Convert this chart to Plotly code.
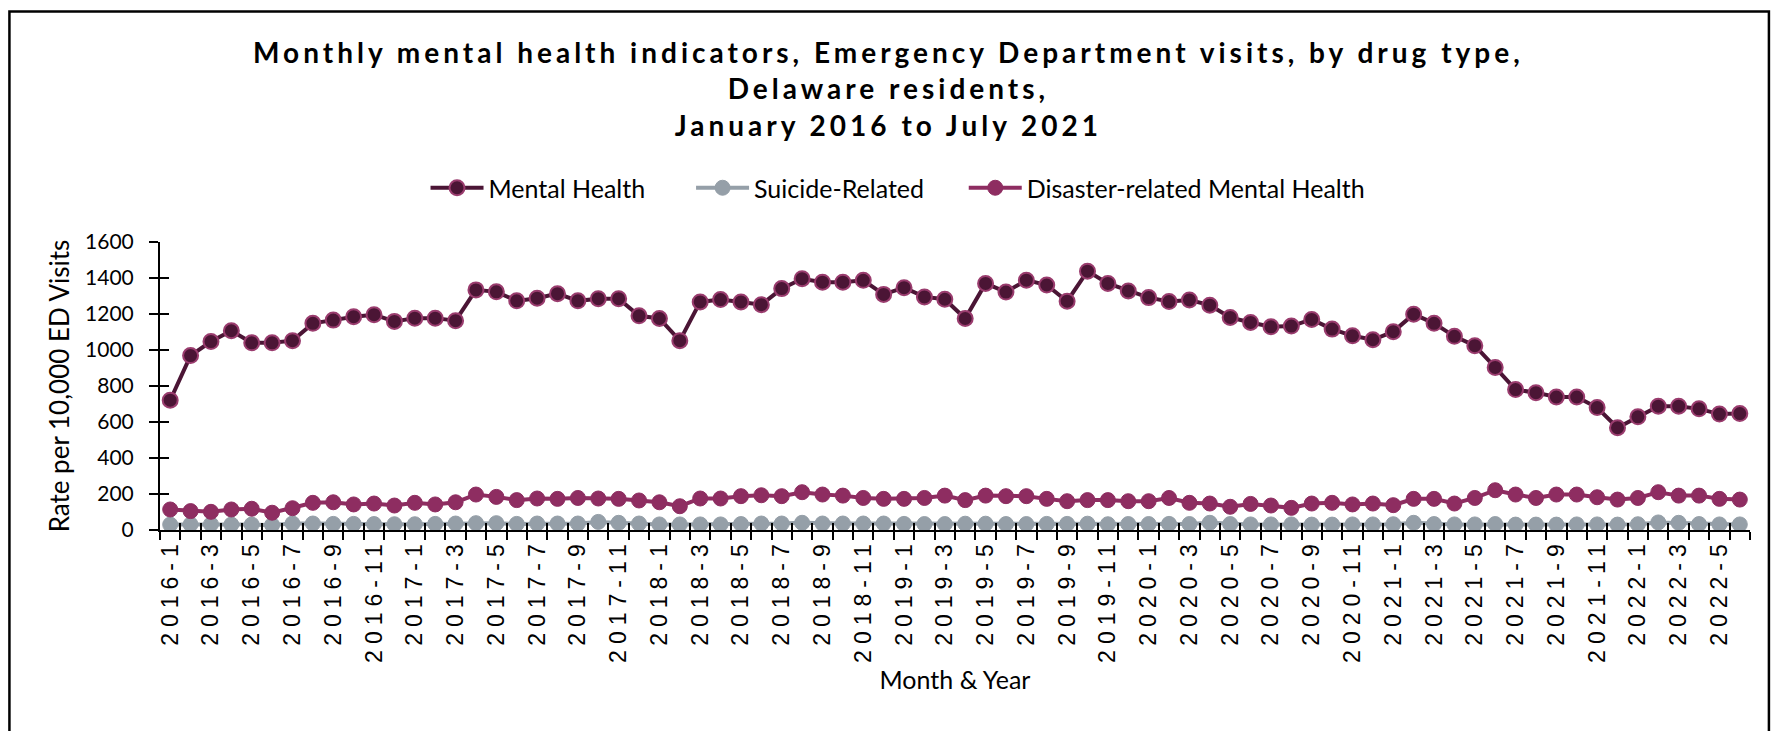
import plotly.graph_objects as go

# ---------------- data ----------------
months = [f"{y}-{m}" for y in range(2016, 2023) for m in range(1, 13)][:78]

mental_health = [721, 969, 1047, 1107, 1040, 1040, 1052, 1148, 1166, 1185, 1196, 1159,
                 1177, 1177, 1163, 1334, 1323, 1273, 1288, 1313, 1273, 1285,
                 1285, 1190, 1175, 1052, 1267, 1280, 1267, 1252, 1341, 1396, 1377, 1377,
                 1387, 1309, 1346, 1295, 1282, 1175, 1370, 1322, 1388, 1361, 1271, 1438,
                 1370, 1328, 1291, 1269,
                 1278, 1249, 1181, 1153, 1129, 1133, 1170, 1116, 1079, 1057, 1102, 1199,
                 1148, 1076, 1024, 903, 780, 763, 739, 739, 680, 568, 629, 688, 688, 673,
                 644, 647]

suicide_related = [30, 31, 32, 30, 30, 28, 36, 36, 34, 34, 33, 32, 32, 34, 36, 38, 38, 34,
                   36, 36, 36,
                   45, 40, 36, 31, 31, 31, 31, 33, 36, 36, 40, 36, 36, 36, 36, 34,
                   33, 33, 35, 35, 33, 33, 34, 34, 35, 32, 33, 33, 34, 33, 40, 33, 31, 31, 31,
                   30, 30, 31, 31, 32, 40, 33, 31, 31, 33, 30, 30, 30, 31, 31, 30, 32, 42,
                   40, 33, 31, 31]

disaster_mh = [114, 105, 101, 114, 118, 96, 121, 151, 154, 142, 147, 136, 151, 142, 154,
               197, 184, 166, 175, 173, 178, 175,
               173, 164, 154, 132, 175, 175, 188, 193, 188, 210, 197, 191, 178, 173, 173,
               178, 191, 166, 191, 188, 188, 173, 160, 166, 166, 160, 160, 178,
               151, 147, 129, 145, 136, 123, 147, 151, 142, 147, 138, 173, 173, 147, 178,
               221, 197, 178, 197, 197, 182, 169, 178, 210, 191, 191, 173, 169]

series_names = ["Mental Health", "Suicide-Related", "Disaster-related Mental Health"]
y_ticks = [0, 200, 400, 600, 800, 1000, 1200, 1400, 1600]

title_lines = ["Monthly mental health indicators, Emergency Department visits, by drug type,",
               "Delaware residents,",
               "January 2016 to July 2021"]
x_title = "Month & Year"
y_title = "Rate per 10,000 ED Visits"

# ---------------- figure ----------------
idx = list(range(len(months)))
FONT = "Lato"

fig = go.Figure()

fig.add_trace(go.Scatter(
    x=idx, y=mental_health, name=series_names[0], mode="lines+markers", legend="legend",
    line=dict(color="#4B1535", width=4),
    marker=dict(size=15, color="#4B1535", line=dict(color="#9A3C6E", width=2)),
))
fig.add_trace(go.Scatter(
    x=idx, y=suicide_related, name=series_names[1], mode="lines+markers", legend="legend2",
    line=dict(color="#959FA8", width=4),
    marker=dict(size=15, color="#959FA8", line=dict(color="#959FA8", width=1)),
))
fig.add_trace(go.Scatter(
    x=idx, y=disaster_mh, name=series_names[2], mode="lines+markers", legend="legend3",
    line=dict(color="#8E2D61", width=4),
    marker=dict(size=15, color="#8E2D61", line=dict(color="#8E2D61", width=1)),
))
# invisible helper trace so that the overlay axes (inner half of cross ticks) are drawn
fig.add_trace(go.Scatter(
    x=idx, y=suicide_related, xaxis="x2", yaxis="y2", mode="lines",
    line=dict(width=0), opacity=0, showlegend=False, hoverinfo="skip",
))

xmin, xmax = -0.5, len(months) - 0.5

tick_text = [f'<span style="letter-spacing:6px">{m}</span>' for m in months[::2]]

legend_style = dict(orientation="h", xanchor="left", y=1.1875, yanchor="middle",
                    font=dict(family=FONT, size=25), bgcolor="rgba(0,0,0,0)",
                    itemwidth=53)

fig.update_layout(
    width=1775, height=723,
    paper_bgcolor="white", plot_bgcolor="white",
    margin=dict(l=152, r=33, t=234, b=201),
    font=dict(family=FONT, size=25, color="black"),
    title=dict(
        text="<br>".join(f'<span style="letter-spacing:4px">{t}</span>' for t in title_lines),
        font=dict(family=FONT, size=28, color="black", weight="bold"),
        x=0.496, xref="container", xanchor="center",
        y=0.924, yref="container", yanchor="top",
    ),
    legend=dict(x=0.167, **legend_style),
    legend2=dict(x=0.334, **legend_style),
    legend3=dict(x=0.5055, **legend_style),
    showlegend=True,
    xaxis=dict(
        range=[xmin, xmax], tickmode="array", tickvals=idx[::2], ticktext=tick_text,
        tickangle=-90, ticks="", ticklabelstandoff=-3,
        tickfont=dict(family="Liberation Sans", size=23, color="black"),
        showline=True, linecolor="black", linewidth=2, showgrid=False, zeroline=False,
        minor=dict(tickmode="linear", tick0=-0.5, dtick=1, ticks="outside",
                   ticklen=8, tickwidth=2, tickcolor="black", showgrid=False),
        title=dict(text=x_title, font=dict(family=FONT, size=25), standoff=10),
    ),
    xaxis2=dict(
        range=[xmin, xmax], overlaying="x", anchor="y", side="bottom",
        tickmode="linear", tick0=-0.5, dtick=1, ticks="inside", ticklen=7,
        tickwidth=2, tickcolor="black", showticklabels=False, showline=False,
        showgrid=False, zeroline=False,
    ),
    yaxis=dict(
        range=[0, 1600], tickmode="array", tickvals=y_ticks, ticks="outside",
        ticklen=9, tickwidth=2, tickcolor="black", ticklabelstandoff=11,
        tickfont=dict(family=FONT, size=21),
        showline=True, linecolor="black", linewidth=2, showgrid=False, zeroline=False,
        title=dict(text=y_title, font=dict(family=FONT, size=26), standoff=8),
    ),
    yaxis2=dict(
        range=[0, 1600], overlaying="y", anchor="x", side="left",
        tickmode="array", tickvals=y_ticks, ticks="inside", ticklen=9,
        tickwidth=2, tickcolor="black", showticklabels=False, showline=False,
        showgrid=False, zeroline=False,
    ),
    shapes=[dict(
        type="rect", xref="paper", yref="paper",
        x0=-0.0947, x1=1.0119, y0=-0.75, y1=1.8007,
        line=dict(color="black", width=2.5), fillcolor="rgba(0,0,0,0)", layer="below",
    )],
)

fig.write_html("out.html")
